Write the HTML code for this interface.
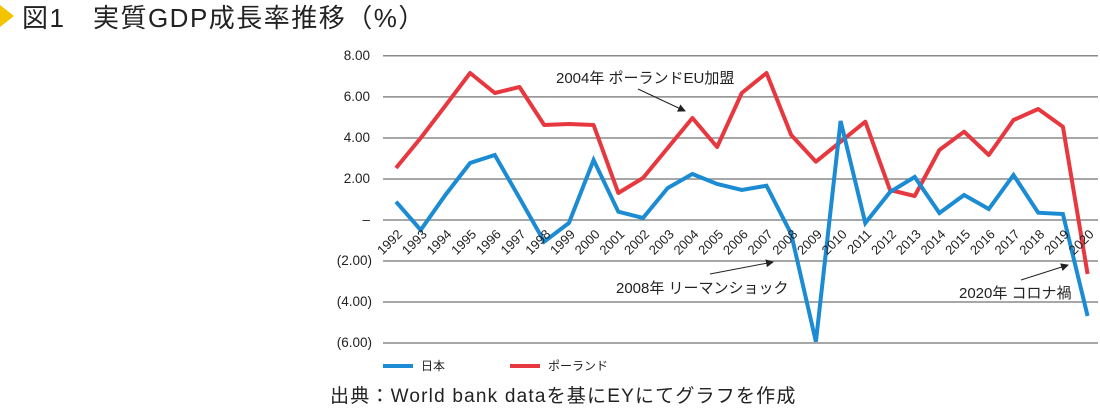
<!DOCTYPE html>
<html><head><meta charset="utf-8"><style>
body{margin:0;background:#fff;width:1100px;height:408px;overflow:hidden}
svg{display:block}
text{font-family:"Liberation Sans","Noto Sans CJK JP",sans-serif;fill:#222}
</style></head><body>
<svg width="1100" height="408" viewBox="0 0 1100 408">
<defs><marker id="ar" markerWidth="8" markerHeight="8" refX="7" refY="4" orient="auto" markerUnits="userSpaceOnUse"><path d="M0,0 L8,4 L0,8 Z" fill="#222"/></marker></defs>
<polygon points="0,5 14,16 0,27" fill="#f5c400"/>
<text x="22" y="27" font-size="26" letter-spacing="1.5">図1　実質GDP成長率推移（%）</text>
<g stroke="#8a8a8a" stroke-width="1.5">
<line x1="383" y1="55.7" x2="1098" y2="55.7"/><line x1="383" y1="96.9" x2="1098" y2="96.9"/>
<line x1="383" y1="138" x2="1098" y2="138"/><line x1="383" y1="179" x2="1098" y2="179"/>
<line x1="383" y1="220" x2="1098" y2="220"/><line x1="383" y1="261" x2="1098" y2="261"/>
<line x1="383" y1="302" x2="1098" y2="302"/><line x1="383" y1="343" x2="1098" y2="343"/>
</g>
<g font-size="13.5" text-anchor="end">
<text x="370" y="60">8.00</text><text x="370" y="101">6.00</text><text x="370" y="142">4.00</text>
<text x="370" y="183">2.00</text><text x="370" y="224">–</text><text x="372" y="265">(2.00)</text>
<text x="372" y="306">(4.00)</text><text x="372" y="347">(6.00)</text>
</g>
<polyline fill="none" stroke="#e8383f" stroke-width="4" stroke-linejoin="round" points="396,168 420.7,138 445.4,105.7 470.1,73 494.8,93 519.5,87 544.2,125 568.9,124 593.6,125 618.3,193 643,178 667.7,148 692.4,118 717.1,147 741.8,93 766.5,73 791.2,135 815.9,161.7 840.6,141.7 865.3,121.7 890,190 914.7,196 939.4,150 964.1,131.7 988.8,155 1013.5,120 1038.2,109 1062.9,126.7 1087.6,274"/>
<polyline fill="none" stroke="#1b8bd3" stroke-width="4" stroke-linejoin="miter" points="396,201.7 420.7,230 445.4,195 470.1,163 494.8,155 519.5,198 544.2,241.7 568.9,223 593.6,160 618.3,211.7 643,218 667.7,188 692.4,174 717.1,184 741.8,190 766.5,185.7 791.2,234 815.9,341.7 840.6,121 865.3,223 890,192 914.7,177 939.4,213 964.1,195 988.8,209 1013.5,175 1038.2,212.7 1062.9,214 1087.6,316"/>
<g font-size="13" text-anchor="end">
<text transform="translate(403,235) rotate(-45)">1992</text><text transform="translate(427.7,235) rotate(-45)">1993</text><text transform="translate(452.4,235) rotate(-45)">1994</text><text transform="translate(477.1,235) rotate(-45)">1995</text><text transform="translate(501.8,235) rotate(-45)">1996</text><text transform="translate(526.5,235) rotate(-45)">1997</text><text transform="translate(551.2,235) rotate(-45)">1998</text><text transform="translate(575.9,235) rotate(-45)">1999</text><text transform="translate(600.6,235) rotate(-45)">2000</text><text transform="translate(625.3,235) rotate(-45)">2001</text><text transform="translate(650,235) rotate(-45)">2002</text><text transform="translate(674.7,235) rotate(-45)">2003</text><text transform="translate(699.4,235) rotate(-45)">2004</text><text transform="translate(724.1,235) rotate(-45)">2005</text><text transform="translate(748.8,235) rotate(-45)">2006</text><text transform="translate(773.5,235) rotate(-45)">2007</text><text transform="translate(798.2,235) rotate(-45)">2008</text><text transform="translate(822.9,235) rotate(-45)">2009</text><text transform="translate(847.6,235) rotate(-45)">2010</text><text transform="translate(872.3,235) rotate(-45)">2011</text><text transform="translate(897,235) rotate(-45)">2012</text><text transform="translate(921.7,235) rotate(-45)">2013</text><text transform="translate(946.4,235) rotate(-45)">2014</text><text transform="translate(971.1,235) rotate(-45)">2015</text><text transform="translate(995.8,235) rotate(-45)">2016</text><text transform="translate(1020.5,235) rotate(-45)">2017</text><text transform="translate(1045.2,235) rotate(-45)">2018</text><text transform="translate(1069.9,235) rotate(-45)">2019</text><text transform="translate(1094.6,235) rotate(-45)">2020</text>
</g>
<g font-size="15">
<text x="556" y="83">2004年 ポーランドEU加盟</text>
<text x="616" y="293">2008年 リーマンショック</text>
<text x="959" y="298">2020年 コロナ禍</text>
</g>
<g stroke="#222" stroke-width="1" marker-end="url(#ar)">
<line x1="638" y1="89" x2="685" y2="111"/>
<line x1="710" y1="274" x2="773" y2="262"/>
<line x1="1021" y1="280" x2="1068" y2="265"/>
</g>
<line x1="383" y1="366" x2="413" y2="366" stroke="#1b8bd3" stroke-width="4"/>
<text x="421" y="370" font-size="12">日本</text>
<line x1="510" y1="366" x2="540" y2="366" stroke="#e8383f" stroke-width="4"/>
<text x="548" y="370" font-size="12">ポーランド</text>
<text x="330" y="402" font-size="19" letter-spacing="1.2">出典：World bank dataを基にEYにてグラフを作成</text>
</svg>
</body></html>
